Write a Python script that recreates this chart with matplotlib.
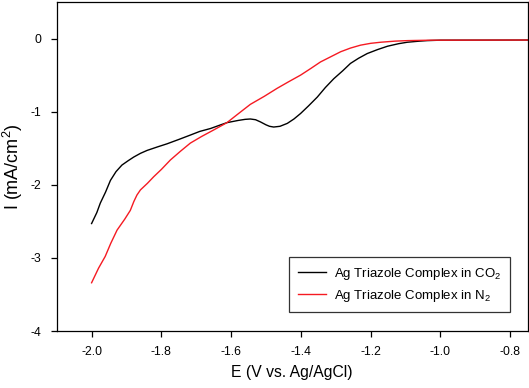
import matplotlib
matplotlib.use("Agg")
import matplotlib.pyplot as plt

plt.rcParams['font.family'] = ['Liberation Sans', 'DejaVu Sans']
plt.rcParams['mathtext.fontset'] = 'custom'
plt.rcParams['mathtext.rm'] = 'Liberation Sans'
plt.rcParams['mathtext.it'] = 'Liberation Sans'
plt.rcParams['mathtext.default'] = 'regular'

# Ag Triazole Complex in CO2 (black)
e_co2 = [-2.000, -1.985, -1.975, -1.960, -1.946, -1.930, -1.913, -1.895, -1.879, -1.860,
         -1.841, -1.810, -1.784, -1.750, -1.717, -1.690, -1.659, -1.630, -1.612, -1.580,
         -1.560, -1.545, -1.530, -1.516, -1.500, -1.490, -1.478, -1.460, -1.439, -1.420,
         -1.401, -1.378, -1.353, -1.330, -1.306, -1.280, -1.258, -1.235, -1.210, -1.180,
         -1.152, -1.120, -1.095, -1.060, -1.038, -1.000, -0.750]
i_co2 = [-2.53, -2.38, -2.25, -2.10, -1.94, -1.82, -1.73, -1.67, -1.62, -1.57,
         -1.53, -1.48, -1.44, -1.38, -1.32, -1.27, -1.23, -1.18, -1.15, -1.12,
         -1.105, -1.10, -1.11, -1.14, -1.18, -1.20, -1.21, -1.20, -1.16, -1.10,
         -1.025, -0.92, -0.80, -0.67, -0.55, -0.44, -0.34, -0.27, -0.205, -0.15,
         -0.105, -0.07, -0.05, -0.035, -0.028, -0.022, -0.02]

# Ag Triazole Complex in N2 (red)
e_n2 = [-2.000, -1.980, -1.961, -1.945, -1.927, -1.905, -1.889, -1.879, -1.870, -1.860,
        -1.840, -1.822, -1.800, -1.774, -1.745, -1.717, -1.685, -1.650, -1.612, -1.580,
        -1.545, -1.505, -1.468, -1.435, -1.401, -1.372, -1.344, -1.315, -1.286, -1.258,
        -1.229, -1.200, -1.171, -1.130, -1.095, -1.028, -0.750]
i_n2 = [-3.34, -3.14, -2.98, -2.80, -2.62, -2.47, -2.35, -2.23, -2.14, -2.07,
        -1.98, -1.89, -1.79, -1.66, -1.54, -1.43, -1.34, -1.25, -1.15, -1.03,
        -0.90, -0.79, -0.68, -0.59, -0.50, -0.41, -0.32, -0.25, -0.18, -0.13,
        -0.09, -0.065, -0.05, -0.035, -0.028, -0.022, -0.02]

x_ticks = [-2.0, -1.8, -1.6, -1.4, -1.2, -1.0, -0.8]
x_ticklabels = ['-2.0', '-1.8', '-1.6', '-1.4', '-1.2', '-1.0', '-0.8']
y_ticks = [-4, -3, -2, -1, 0]
y_ticklabels = ['-4', '-3', '-2', '-1', '0']

fig = plt.figure(figsize=(5.29, 3.88), dpi=100)
ax = fig.add_axes([0.1072, 0.1469, 0.8903, 0.8479])

ax.plot(e_co2, i_co2, color='black', lw=1.0, label='Ag Triazole Complex in CO$_2$')
ax.plot(e_n2, i_n2, color='#f51a22', lw=1.0, label='Ag Triazole Complex in N$_2$')

ax.set_xlim(-2.1, -0.75)
ax.set_ylim(-4, 0.5)
ax.set_xticks(x_ticks)
ax.set_xticklabels(x_ticklabels)
ax.set_yticks(y_ticks)
ax.set_yticklabels(y_ticklabels)
ax.tick_params(direction='out', length=4, width=0.9, labelsize=8.7, pad=7)
for s in ax.spines.values():
    s.set_linewidth(0.9)

ax.set_xlabel('E (V vs. Ag/AgCl)', fontsize=11.3, labelpad=5)
ax.set_ylabel('I (mA/cm$^2$)', fontsize=13, labelpad=4)

leg = ax.legend(loc='lower right', bbox_to_anchor=(0.962, 0.057), fontsize=9.5,
                frameon=True, fancybox=False, edgecolor='black', handlelength=2.15,
                borderpad=0.65, labelspacing=0.45, handletextpad=0.6, borderaxespad=0)
leg.get_frame().set_linewidth(0.9)

fig.savefig('out.png', dpi=100)
